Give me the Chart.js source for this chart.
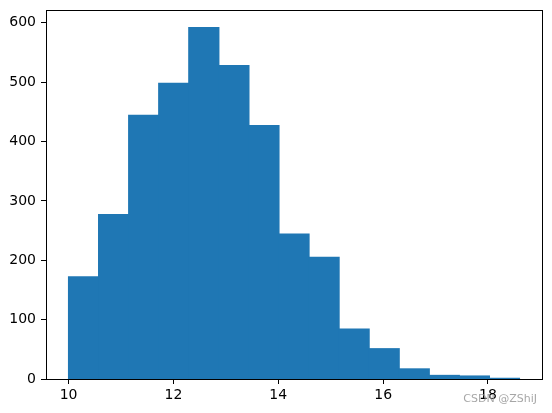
<!DOCTYPE html>
<html>
<head>
<meta charset="utf-8">
<script src="https://cdn.jsdelivr.net/npm/chart.js@4/dist/chart.umd.min.js"></script>
<style>
  html, body { margin: 0; padding: 0; background: #fff; }
  #wrap { width: 552px; height: 413px; position: relative; }
</style>
</head>
<body>
<div id="wrap"><canvas id="hist-chart"></canvas></div>
<script>
// histogram bins (15 bins from 10 to 18.6)
const binEdges = [10, 10.573, 11.147, 11.72, 12.293, 12.867, 13.44, 14.013, 14.587, 15.16, 15.733, 16.307, 16.88, 17.453, 18.027, 18.6];
const counts = [172, 277, 444, 498, 592, 528, 427, 244, 205, 84, 51, 17, 6, 5, 1];
const xTicks = [10, 12, 14, 16, 18];
const yTicks = [0, 100, 200, 300, 400, 500, 600];

const barData = counts.map((c, i) => ({ x: (binEdges[i] + binEdges[i + 1]) / 2, y: c }));

const boxPlugin = {
    id: 'box',
    afterDraw(chart) {
        const { ctx, chartArea } = chart;
        ctx.save();
        ctx.strokeStyle = '#000';
        ctx.lineWidth = 1;
        ctx.strokeRect(Math.round(chartArea.left) + 0.5, Math.round(chartArea.top) + 0.5,
            Math.round(chartArea.right - chartArea.left), Math.round(chartArea.bottom - chartArea.top));
        // watermark
        ctx.font = '11px "DejaVu Sans", sans-serif';
        ctx.fillStyle = 'rgba(150,150,150,0.85)';
        ctx.textAlign = 'right';
        ctx.textBaseline = 'middle';
        ctx.fillText('CSDN @ZShiJ', 537, 399);
        ctx.restore();
    }
};

const ctx = document.getElementById('hist-chart').getContext('2d');
new Chart(ctx, {
    type: 'bar',
    data: {
        datasets: [{
            data: barData,
            backgroundColor: '#1f77b4',
            borderWidth: 0,
            inflateAmount: 0.6,
            barPercentage: 1.0,
            categoryPercentage: 1.0,
            grouped: false
        }]
    },
    options: {
        responsive: true,
        maintainAspectRatio: false,
        animation: false,
        layout: { padding: { top: 10, right: 10, left: 0, bottom: 0 } },
        plugins: { legend: { display: false }, tooltip: { enabled: false } },
        scales: {
            x: {
                type: 'linear',
                min: 9.57,
                max: 19.03,
                offset: false,
                afterBuildTicks: axis => { axis.ticks = xTicks.map(v => ({ value: v })); },
                afterFit: axis => { axis.height = 34; axis.paddingLeft = 0; axis.paddingRight = 0; },
                grid: { offset: false, drawOnChartArea: false, tickLength: 5, tickColor: '#000', tickWidth: 1 },
                border: { display: true, color: '#000', width: 1 },
                ticks: { color: '#000', padding: 3, maxRotation: 0, font: { family: '"DejaVu Sans"', size: 14 } }
            },
            y: {
                min: 0,
                max: 621.6,
                afterBuildTicks: axis => { axis.ticks = yTicks.map(v => ({ value: v })); },
                afterFit: axis => { axis.width = 46; axis.paddingTop = 0; axis.paddingBottom = 0; },
                grid: { drawOnChartArea: false, tickLength: 5, tickColor: '#000', tickWidth: 1 },
                border: { display: true, color: '#000', width: 1 },
                ticks: { color: '#000', padding: 5, font: { family: '"DejaVu Sans"', size: 14 } }
            }
        }
    },
    plugins: [boxPlugin]
});
</script>
</body>
</html>
